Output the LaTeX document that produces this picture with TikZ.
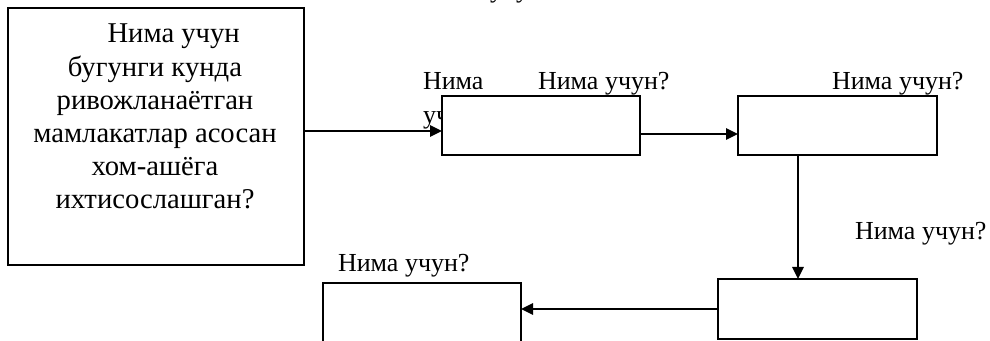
\documentclass[tikz,border=0pt]{standalone}
\usepackage{fontspec}
\setmainfont{Liberation Serif}
\usetikzlibrary{arrows.meta}
\tikzset{
  box/.style={draw=black, line width=1.1pt, fill=white, rectangle, inner sep=0pt, outer sep=0pt},
  lbl/.style={inner sep=0pt, outer sep=0pt, anchor=base west, font=\fontsize{19.5}{25.5}\selectfont},
  arr/.style={line width=1.4pt, -{Triangle[length=9pt,width=8.5pt]}}
}
\begin{document}
\begin{tikzpicture}[x=0.75pt,y=-0.75pt]
\useasboundingbox (0,0) rectangle (990,341);
\clip (0,0) rectangle (990,341);
\fill[white] (0,0) rectangle (990,341);
% top clipped label
\node[lbl] (ltop) at (423,-2) {Нима учун?};
% wrapped label behind box 2 (base = last line)
\node[lbl, align=left] (lwrap) at (423,124) {Нима\\учун?};
% big box
\node[box, minimum width=296*0.75pt, minimum height=257*0.75pt] (big) at (156,136.5) {};
\node[inner sep=0pt, anchor=base, align=center, font=\fontsize{21.5}{24.9}\selectfont] (bigtxt) at (155,209)
  {\hspace*{28pt}Нима учун\\бугунги кунда\\ривожланаётган\\мамлакатлар асосан\\хом-ашёга\\ихтисослашган?};
% boxes
\node[box, minimum width=198*0.75pt, minimum height=59*0.75pt] (b2) at (541,125.5) {};
\node[box, minimum width=199*0.75pt, minimum height=59*0.75pt] (b3) at (837.5,125.5) {};
\node[box, minimum width=199*0.75pt, minimum height=60*0.75pt] (b4) at (817.5,309) {};
\node[box, minimum width=198*0.75pt, minimum height=62*0.75pt] (b5) at (422,314) {};
% labels
\node[lbl] (l2) at (538,90) {Нима учун?};
\node[lbl] (l3) at (832,90) {Нима учун?};
\node[lbl] (l4) at (855,240) {Нима учун?};
\node[lbl] (l5) at (338,272) {Нима учун?};
% connectors
\coordinate (y1) at (0,131);
\coordinate (y2) at (0,134);
\coordinate (x3) at (798,0);
\draw[arr] (big.east |- y1) -- (b2.west |- y1);
\draw[arr] (b2.east |- y2) -- (b3.west |- y2);
\draw[arr] (b3.south -| x3) -- (b4.north -| x3);
\draw[arr] (b4.west) -- (b5.east |- b4.west);
\end{tikzpicture}
\end{document}
